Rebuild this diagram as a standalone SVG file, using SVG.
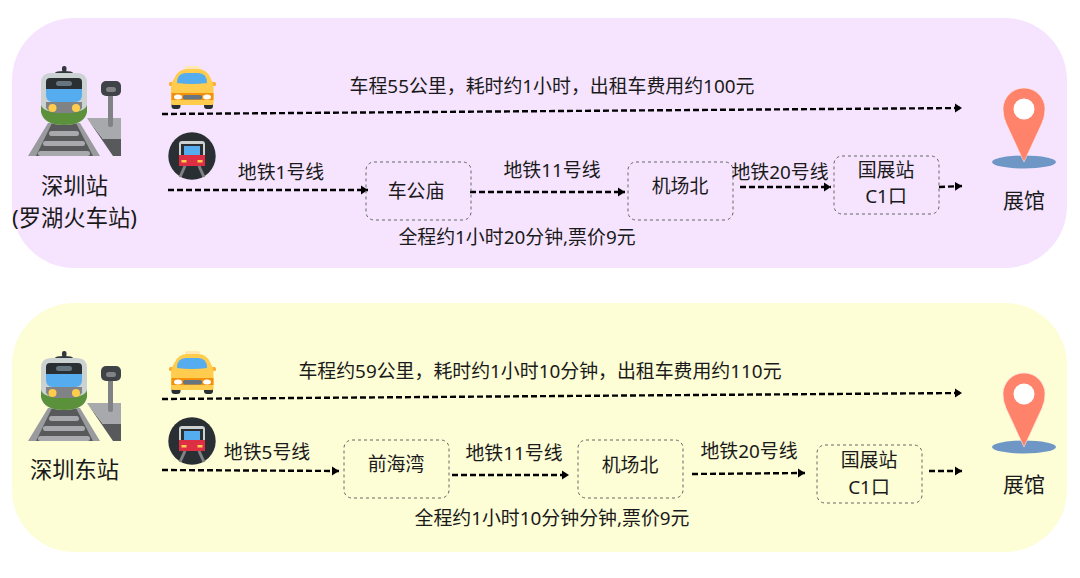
<svg xmlns="http://www.w3.org/2000/svg" xmlns:xlink="http://www.w3.org/1999/xlink" width="1080" height="578" viewBox="0 0 1080 578">
<style>
text{font-family:"Noto Sans","Noto Sans CJK SC",sans-serif;font-size:18.9px;fill:#1a1a1a;text-anchor:middle}
text.big{font-size:22.3px}
text.mid{font-size:21px}
.conn{fill:none;stroke:#000;stroke-width:2.4;stroke-dasharray:6 3;marker-end:url(#arrow)}
.box{fill:none;stroke:#666;stroke-width:1;stroke-dasharray:3 3}
</style>
<defs>
<marker id="arrow" markerUnits="userSpaceOnUse" markerWidth="9" markerHeight="11" refX="7" refY="5.500" orient="auto"><path d="M0 1L7 5.500L0 10Z" fill="#000"/></marker>
<g id="train">
<rect x="62" y="66" width="4.500" height="6" rx="2" fill="#31373d"/>
<path d="M55 73Q55 71 64 71Q73 71 73 73Z" fill="#31373d"/>
<path d="M28 156L48 123H80L100 156Z" fill="#9a9b9e"/>
<path d="M36 156L52 123H76L93 156Z" fill="#58595b"/>
<rect x="49" y="131" width="30" height="5" rx="2.500" fill="#a7a9ac"/>
<rect x="43" y="141" width="42" height="5" rx="2.500" fill="#a7a9ac"/>
<rect x="38" y="151" width="52" height="5" rx="2.500" fill="#a7a9ac"/>
<path d="M87 118L113 156H121V139H103Z" fill="#58595b"/>
<path d="M87 118H121V139H103Z" fill="#a7a9ac"/>
<rect x="108" y="90" width="5" height="37" rx="2" fill="#808285"/>
<rect x="101" y="81" width="20" height="15" rx="5" fill="#3f4347"/>
<rect x="106" y="87" width="10" height="5" rx="2.500" fill="#808285"/>
<path d="M51 73H77Q87 73 87 83V110Q87 125 64 125Q41 125 41 110V83Q41 73 51 73Z" fill="#ccd2d1"/>
<path d="M50 78H78Q82 78 82 82V89H46V82Q46 78 50 78Z" fill="#292f33"/>
<rect x="56" y="81" width="16" height="5" rx="2.500" fill="#66757f"/>
<path d="M46 89H82V95Q82 102 75 102H53Q46 102 46 95Z" fill="#55acee"/>
<path d="M41 105Q42 110 52 112H76Q86 110 87 105V112Q84 125 64 125Q44 125 41 112Z" fill="#5c913b"/>
<path d="M46 102H82V108Q78 113 72 113H56Q50 113 46 108Z" fill="#808285"/>
<circle cx="52.500" cy="108" r="4" fill="#ffcc4d"/><circle cx="76" cy="108" r="4" fill="#ffcc4d"/>
</g>
<g id="taxi">
<rect x="185" y="66" width="15" height="4" rx="1.500" fill="#ffe8b6"/>
<rect x="171.500" y="100" width="9" height="9" rx="3" fill="#292f33"/><rect x="204" y="100" width="9" height="9" rx="3" fill="#292f33"/>
<rect x="169" y="82" width="47" height="4" rx="1.500" fill="#ffac33"/>
<path d="M171 104V88Q171 83 175 77Q179 69 187 69H198Q206 69 210 77Q213.500 83 213.500 88V104Q213.500 105 210 105H175Q171 105 171 104Z" fill="#ffcc4d"/>
<path d="M177 83Q177 73 186 73H198Q207 73 207 83Q192 85 177 83Z" fill="#55acee"/>
<rect x="171.500" y="93" width="42" height="7" fill="#f4900c"/>
<ellipse cx="178" cy="97" rx="4" ry="2.500" fill="#fff"/><ellipse cx="207" cy="97" rx="4" ry="2.500" fill="#fff"/>
<rect x="183" y="95" width="19" height="4.500" rx="2" fill="#66757f"/>
</g>
<g id="metro">
<circle cx="192" cy="156" r="23.700" fill="#292f33"/>
<path d="M185 166L180 177M199 166L204 177" stroke="#808285" stroke-width="3" fill="none"/>
<path d="M182 141H202Q205 141 205 144V166H179V144Q179 141 182 141Z" fill="#ccd2d1"/>
<rect x="181" y="144" width="22" height="12" fill="#292f33"/>
<rect x="184" y="146" width="16" height="9" fill="#55acee"/>
<rect x="179" y="155" width="26" height="11" fill="#dd2e44"/>
<rect x="181.500" y="160" width="5" height="2.500" fill="#ffcc4d"/><rect x="197.500" y="160" width="5" height="2.500" fill="#ffcc4d"/>
</g>
<g id="pin">
<ellipse cx="1024" cy="162" rx="32" ry="6.500" fill="#6f97c6"/>
<path d="M1024 162L1006 123Q1003 116 1003 109A21 21 0 0 1 1045 109Q1045 116 1042 123Z" fill="#ff826a" stroke="#ffe6df" stroke-width=".6"/>
<circle cx="1024" cy="109" r="10.500" fill="#fff"/>
</g>
</defs>

<rect id="panel1" x="12" y="18" width="1055" height="250" rx="62" fill="#f6e4ff"/>
<rect id="panel2" x="12" y="303" width="1055" height="249" rx="62" fill="#fdfdd6"/>

<g id="connectors">
<path class="conn" d="M162 114L962 108"/>
<path class="conn" d="M168 190L368 190"/>
<path class="conn" d="M470 192L625 192"/>
<path class="conn" d="M740 187L831 187"/>
<path class="conn" d="M939 187L962 186"/>
<path class="conn" d="M162 399L962 393"/>
<path class="conn" d="M162 470L339 471"/>
<path class="conn" d="M452 475L569 475"/>
<path class="conn" d="M692 474L805 473"/>
<path class="conn" d="M929 471L962 471"/>
</g>

<g id="station1"><use href="#train"/><text class="big" x="74.500" y="194">深圳站</text><text class="big" x="74.500" y="226">(罗湖火车站)</text></g>
<g id="taxi1"><use href="#taxi"/></g>
<g id="metro1"><use href="#metro"/></g>
<g id="dest1"><use href="#pin"/><text class="mid" x="1024" y="208">展馆</text></g>
<g id="node-chegongmiao"><rect class="box" x="366" y="162" width="105" height="58" rx="8"/><text x="416" y="198">车公庙</text></g>
<g id="node-jichangbei1"><rect class="box" x="628" y="162" width="105" height="58" rx="8"/><text x="680" y="193">机场北</text></g>
<g id="node-guozhan1"><rect class="box" x="834" y="156" width="105" height="58" rx="8"/><text x="886" y="177">国展站</text><text x="886" y="203">C1口</text></g>
<g id="labels1">
<text x="552" y="93">车程55公里，耗时约1小时，出租车费用约100元</text>
<text x="281" y="179">地铁1号线</text>
<text x="552" y="177">地铁11号线</text>
<text x="780" y="179">地铁20号线</text>
<text x="517" y="244">全程约1小时20分钟,票价9元</text>
</g>

<g id="station2"><use href="#train" y="285"/><text class="big" x="74.500" y="478">深圳东站</text></g>
<g id="taxi2"><use href="#taxi" y="285"/></g>
<g id="metro2"><use href="#metro" y="285"/></g>
<g id="dest2"><use href="#pin" y="285"/><text class="mid" x="1024" y="492">展馆</text></g>
<g id="node-qianhaiwan"><rect class="box" x="344" y="440" width="105" height="58" rx="8"/><text x="396" y="471">前海湾</text></g>
<g id="node-jichangbei2"><rect class="box" x="578" y="440" width="105" height="58" rx="8"/><text x="630" y="472">机场北</text></g>
<g id="node-guozhan2"><rect class="box" x="817" y="445" width="105" height="58" rx="8"/><text x="869" y="467">国展站</text><text x="869" y="494">C1口</text></g>
<g id="labels2">
<text x="540" y="378">车程约59公里，耗时约1小时10分钟，出租车费用约110元</text>
<text x="267" y="459">地铁5号线</text>
<text x="514" y="460">地铁11号线</text>
<text x="749" y="458">地铁20号线</text>
<text x="552" y="525">全程约1小时10分钟分钟,票价9元</text>
</g>
</svg>
